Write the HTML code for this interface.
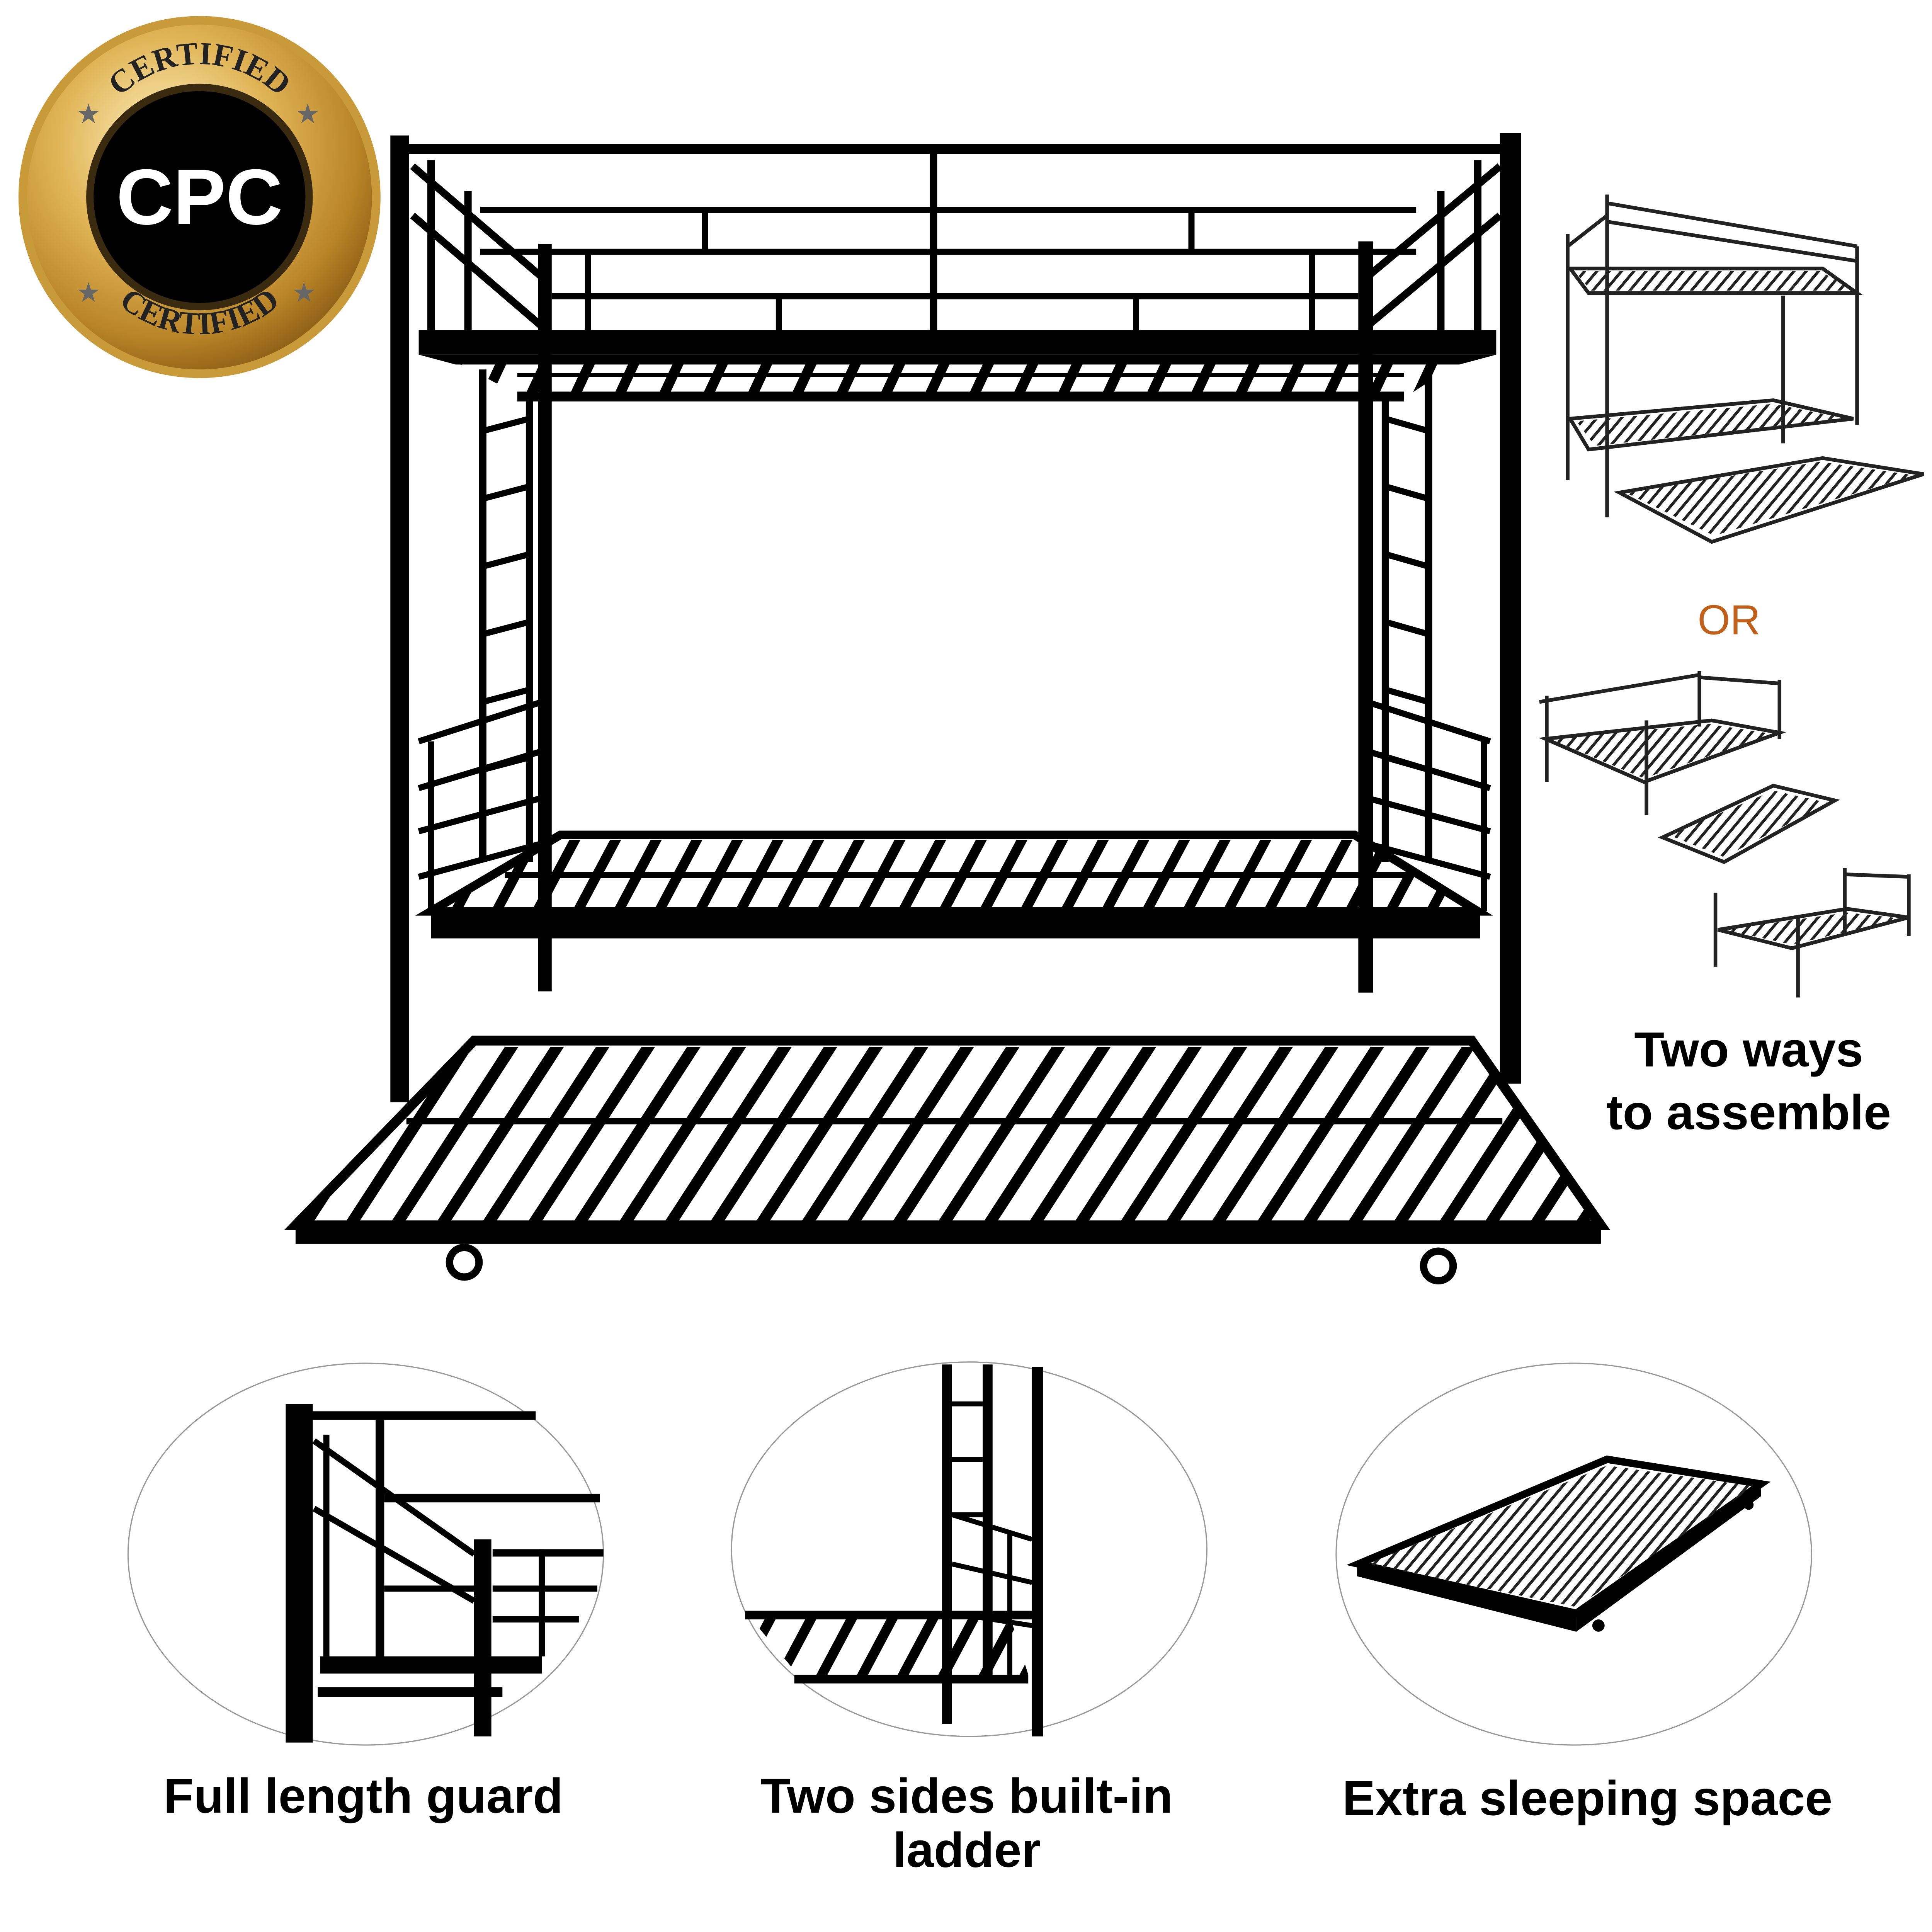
<!DOCTYPE html>
<html><head><meta charset="utf-8"><style>
html,body{margin:0;padding:0;background:#fff;width:5367px;height:5367px;overflow:hidden}
svg{display:block;position:absolute;left:0;top:0;width:5367px;height:5367px}
</style></head><body>
<svg width="5367" height="5367" viewBox="0 0 1684 1684" preserveAspectRatio="xMinYMin meet" xmlns="http://www.w3.org/2000/svg" font-family="Liberation Sans, DejaVu Sans, sans-serif">
<defs>
<radialGradient id="gold" cx="40%" cy="35%" r="70%">
<stop offset="0" stop-color="#fff3c4"/><stop offset="0.45" stop-color="#e0b456"/><stop offset="0.8" stop-color="#b98427"/><stop offset="1" stop-color="#8a5c15"/></radialGradient>
<pattern id="s1" patternUnits="userSpaceOnUse" width="36" height="20" patternTransform="skewX(-25)"><rect x="0" y="0" width="9" height="20" fill="#000"/></pattern>
<pattern id="s2" patternUnits="userSpaceOnUse" width="33" height="20" patternTransform="skewX(-28)"><rect x="0" y="0" width="9" height="20" fill="#000"/></pattern>
<pattern id="s3" patternUnits="userSpaceOnUse" width="37" height="20" patternTransform="skewX(-33)"><rect x="0" y="0" width="11" height="20" fill="#000"/></pattern>
<pattern id="s4" patternUnits="userSpaceOnUse" width="10" height="10" patternTransform="skewX(-40)"><rect width="3" height="10" fill="#222"/></pattern>
</defs>
<rect width="1684" height="1684" fill="#fff"/>

<circle cx="162" cy="160" r="147" fill="#c99a3a"/>
<circle cx="162" cy="160" r="140" fill="url(#gold)"/>
<circle cx="162" cy="160" r="92" fill="#3a2a10"/>
<circle cx="162" cy="160" r="86" fill="#000"/>
<text x="162" y="182" font-size="64" font-weight="bold" fill="#fff" text-anchor="middle">CPC</text>
<path id="arcT" d="M72,125 A92,92 0 0 1 252,125" fill="none"/>
<text font-family="Liberation Serif, serif" font-size="26" font-weight="bold" fill="#222"><textPath href="#arcT" startOffset="50%" text-anchor="middle">CERTIFIED</textPath></text>
<path id="arcB" d="M72,215 A100,100 0 0 0 252,215" fill="none"/>
<text font-family="Liberation Serif, serif" font-size="26" font-weight="bold" fill="#222"><textPath href="#arcB" startOffset="50%" text-anchor="middle">CERTIFIED</textPath></text>
<text x="62" y="100" font-size="22" fill="#666">★</text><text x="240" y="100" font-size="22" fill="#666">★</text>
<text x="62" y="245" font-size="22" fill="#666">★</text><text x="237" y="245" font-size="22" fill="#666">★</text>

<g fill="#000" stroke="none">
<rect x="317" y="110" width="15" height="785"/>
<rect x="1218" y="108" width="17" height="772"/>
<rect x="437" y="198" width="11" height="607"/>
<rect x="1103" y="196" width="12" height="610"/>
<rect x="330" y="117" width="890" height="8"/>
<rect x="390" y="168" width="760" height="5"/>
<rect x="390" y="202" width="760" height="5"/>
<rect x="448" y="238" width="655" height="5"/>
<rect x="755" y="125" width="6" height="145"/>
<rect x="570" y="170" width="5" height="35"/>
<rect x="965" y="170" width="5" height="35"/>
<rect x="475" y="205" width="5" height="65"/>
<rect x="630" y="240" width="5" height="30"/>
<rect x="920" y="240" width="5" height="30"/>
<rect x="1063" y="205" width="5" height="65"/>
<rect x="340" y="268" width="875" height="20"/>
<polygon points="340,288 1215,288 1185,296 370,296"/>
<rect x="420" y="318" width="720" height="8"/>
</g>
<polygon points="370,294 1185,294 1145,320 420,320" fill="url(#s1)"/>
<rect x="420" y="303" width="720" height="3" fill="#000"/>
<g stroke="#000" stroke-width="6" fill="none">
<line x1="335" y1="135" x2="440" y2="225"/>
<line x1="335" y1="175" x2="440" y2="265"/>
<line x1="350" y1="130" x2="350" y2="268"/>
<line x1="380" y1="155" x2="380" y2="268"/>
<line x1="1218" y1="135" x2="1110" y2="225"/>
<line x1="1218" y1="175" x2="1110" y2="265"/>
<line x1="1200" y1="130" x2="1200" y2="268"/>
<line x1="1170" y1="155" x2="1170" y2="268"/>
<line x1="392" y1="300" x2="392" y2="700"/>
<line x1="430" y1="320" x2="430" y2="700"/>
<line x1="1125" y1="320" x2="1125" y2="700"/>
<line x1="1160" y1="300" x2="1160" y2="700"/>
</g>
<g stroke="#000" stroke-width="5">
<line x1="392" y1="350" x2="430" y2="340"/><line x1="392" y1="405" x2="430" y2="395"/><line x1="392" y1="460" x2="430" y2="450"/><line x1="392" y1="515" x2="430" y2="505"/><line x1="392" y1="570" x2="430" y2="560"/><line x1="392" y1="625" x2="430" y2="615"/>
<line x1="1125" y1="340" x2="1160" y2="350"/><line x1="1125" y1="395" x2="1160" y2="405"/><line x1="1125" y1="450" x2="1160" y2="460"/><line x1="1125" y1="505" x2="1160" y2="515"/><line x1="1125" y1="560" x2="1160" y2="570"/><line x1="1125" y1="615" x2="1160" y2="625"/>
<line x1="340" y1="602" x2="440" y2="570"/><line x1="340" y1="640" x2="440" y2="610"/><line x1="340" y1="675" x2="440" y2="648"/><line x1="340" y1="712" x2="440" y2="685"/>
<line x1="350" y1="602" x2="350" y2="740"/>
<line x1="1110" y1="570" x2="1210" y2="602"/><line x1="1110" y1="610" x2="1210" y2="640"/><line x1="1110" y1="648" x2="1210" y2="675"/><line x1="1110" y1="685" x2="1210" y2="712"/>
<line x1="1205" y1="602" x2="1205" y2="740"/>
</g>
<polygon points="455,678 1100,678 1200,740 350,740" fill="none" stroke="#000" stroke-width="7"/>
<polygon points="455,682 1100,682 1195,738 355,738" fill="url(#s2)"/>
<rect x="410" y="708" width="735" height="5" fill="#000"/>
<rect x="350" y="740" width="852" height="22" fill="#000"/>
<polygon points="385,845 1195,845 1300,995 240,995" fill="none" stroke="#000" stroke-width="8"/>
<polygon points="385,850 1195,850 1295,992 245,992" fill="url(#s3)"/>
<rect x="330" y="908" width="890" height="5" fill="#000"/>
<rect x="240" y="992" width="1060" height="18" fill="#000"/>
<circle cx="377" cy="1025" r="12" fill="none" stroke="#000" stroke-width="6"/>
<circle cx="1168" cy="1028" r="12" fill="none" stroke="#000" stroke-width="6"/>

<g stroke="#222" stroke-width="3" fill="none">
<line x1="1273" y1="190" x2="1273" y2="390"/><line x1="1305" y1="158" x2="1305" y2="420"/>
<line x1="1448" y1="240" x2="1448" y2="360"/><line x1="1508" y1="200" x2="1508" y2="345"/>
<line x1="1305" y1="165" x2="1508" y2="200"/><line x1="1305" y1="180" x2="1508" y2="212"/>
<line x1="1273" y1="200" x2="1305" y2="175"/>
<polygon points="1275,218 1480,218 1508,238 1290,238"/>
<polygon points="1275,340 1440,325 1505,340 1290,365"/>
<polygon points="1315,400 1480,372 1562,385 1390,440"/>
</g>
<polygon points="1278,220 1478,220 1505,236 1292,236" fill="url(#s4)"/>
<polygon points="1280,342 1440,328 1500,340 1295,362" fill="url(#s4)"/>
<polygon points="1320,400 1478,375 1555,386 1392,435" fill="url(#s4)"/>
<text x="1404" y="515" font-size="34" fill="#c0601a" text-anchor="middle">OR</text>
<g stroke="#222" stroke-width="3" fill="none">
<line x1="1256" y1="565" x2="1256" y2="635"/><line x1="1337" y1="585" x2="1337" y2="662"/><line x1="1380" y1="545" x2="1380" y2="590"/><line x1="1445" y1="552" x2="1445" y2="600"/>
<line x1="1250" y1="570" x2="1380" y2="548"/><line x1="1380" y1="550" x2="1445" y2="555"/>
<polygon points="1255,600 1390,585 1445,595 1335,635"/>
<polygon points="1350,680 1440,638 1490,650 1400,700"/>
<line x1="1393" y1="725" x2="1393" y2="785"/><line x1="1460" y1="745" x2="1460" y2="810"/><line x1="1498" y1="705" x2="1498" y2="760"/><line x1="1550" y1="710" x2="1550" y2="760"/>
<line x1="1498" y1="710" x2="1550" y2="712"/>
<polygon points="1395,755 1500,738 1550,745 1455,770"/>
</g>
<polygon points="1258,600 1388,588 1440,596 1335,632" fill="url(#s4)"/>
<polygon points="1355,678 1440,642 1485,652 1400,696" fill="url(#s4)"/>
<polygon points="1400,755 1500,741 1545,746 1455,767" fill="url(#s4)"/>
<text x="1420" y="866" font-size="40" font-weight="bold" fill="#000" text-anchor="middle">Two ways</text>
<text x="1420" y="917" font-size="40" font-weight="bold" fill="#000" text-anchor="middle">to assemble</text>

<ellipse cx="297" cy="1262" rx="193" ry="155" fill="#fff" stroke="#999" stroke-width="1"/>
<ellipse cx="787" cy="1258" rx="193" ry="152" fill="#fff" stroke="#999" stroke-width="1"/>
<ellipse cx="1278" cy="1262" rx="193" ry="155" fill="#fff" stroke="#999" stroke-width="1"/>
<g fill="#000">
<rect x="232" y="1140" width="22" height="275"/>
<rect x="250" y="1146" width="185" height="7"/>
<rect x="305" y="1153" width="7" height="200"/>
<rect x="312" y="1213" width="175" height="7"/>
<rect x="385" y="1250" width="14" height="160"/>
<rect x="400" y="1258" width="90" height="6"/>
<rect x="260" y="1345" width="180" height="14"/>
<rect x="258" y="1370" width="150" height="8"/>
</g>
<g stroke="#000" stroke-width="5">
<line x1="255" y1="1170" x2="385" y2="1262"/><line x1="255" y1="1225" x2="385" y2="1300"/>
<line x1="265" y1="1165" x2="265" y2="1345"/><line x1="312" y1="1290" x2="385" y2="1290"/>
<line x1="400" y1="1290" x2="485" y2="1290"/><line x1="400" y1="1315" x2="470" y2="1315"/>
<line x1="440" y1="1258" x2="440" y2="1345"/>
</g>
<g fill="#000">
<rect x="765" y="1108" width="8" height="292"/>
<rect x="798" y="1108" width="8" height="255"/>
<rect x="838" y="1110" width="9" height="300"/>
<rect x="605" y="1308" width="235" height="7"/>
<rect x="645" y="1360" width="190" height="7"/>
</g>
<g stroke="#000" stroke-width="4">
<line x1="773" y1="1140" x2="798" y2="1140"/><line x1="773" y1="1185" x2="798" y2="1185"/><line x1="773" y1="1230" x2="798" y2="1230"/>
<line x1="773" y1="1230" x2="838" y2="1250"/><line x1="773" y1="1270" x2="838" y2="1285"/><line x1="773" y1="1310" x2="838" y2="1320"/>
<line x1="820" y1="1245" x2="820" y2="1360"/>
</g>
<polygon points="608,1312 820,1312 835,1360 648,1360" fill="url(#s2)"/>
<polygon points="1103,1270 1305,1185 1430,1205 1280,1310" fill="none" stroke="#000" stroke-width="6"/>
<polygon points="1110,1270 1305,1190 1425,1207 1280,1305" fill="url(#s4)"/>
<polygon points="1102,1270 1280,1310 1280,1325 1102,1280" fill="#000"/>
<polygon points="1280,1310 1430,1205 1430,1215 1280,1325" fill="#000"/>
<circle cx="1298" cy="1320" r="5" fill="#000"/><circle cx="1420" cy="1222" r="4" fill="#000"/>

<text x="295" y="1472" font-size="40" font-weight="bold" fill="#000" text-anchor="middle">Full length guard</text>
<text x="785" y="1472" font-size="40" font-weight="bold" fill="#000" text-anchor="middle">Two sides built-in</text>
<text x="785" y="1516" font-size="40" font-weight="bold" fill="#000" text-anchor="middle">ladder</text>
<text x="1289" y="1474" font-size="40" font-weight="bold" fill="#000" text-anchor="middle">Extra sleeping space</text>
</svg>
</body></html>
